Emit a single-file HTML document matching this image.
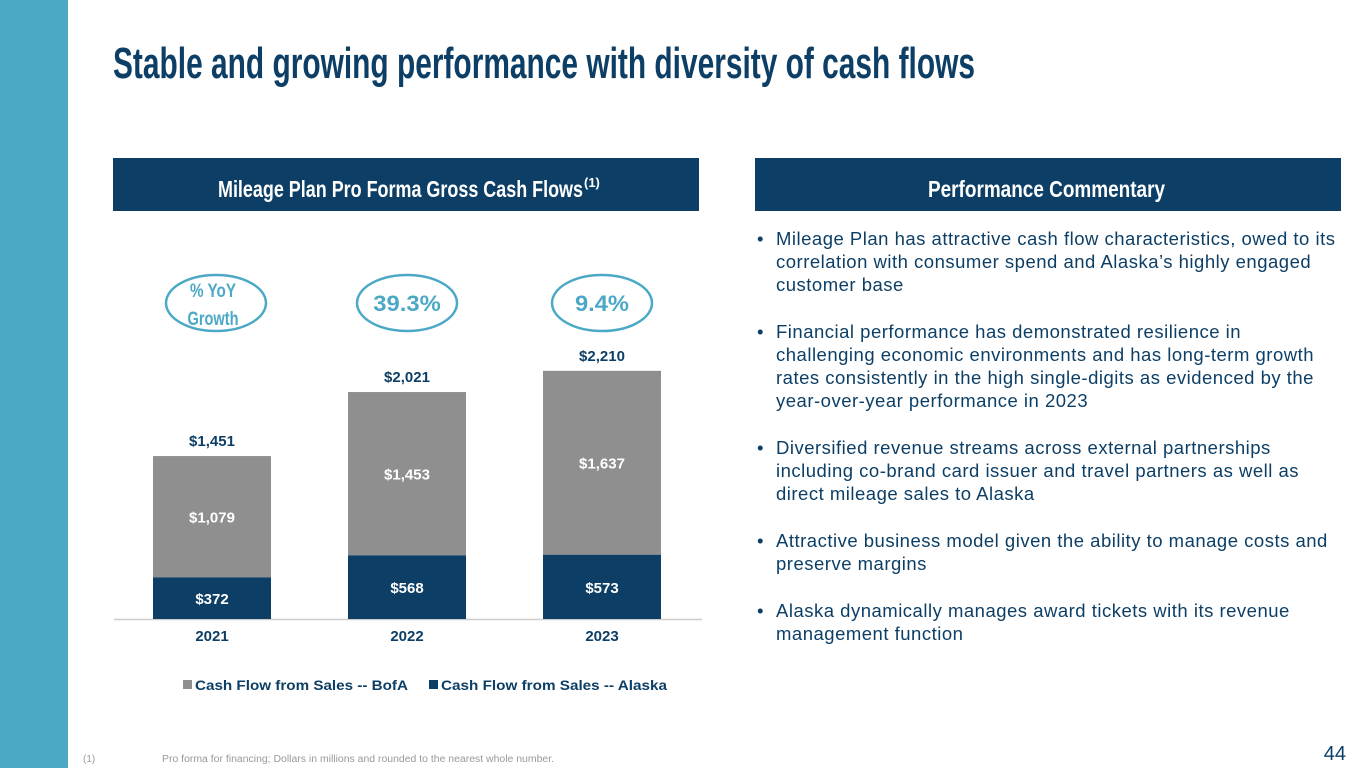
<!DOCTYPE html>
<html><head><meta charset="utf-8"><style>
body{margin:0;width:1365px;height:768px;background:#fff;position:relative;overflow:hidden;font-family:"Liberation Sans",sans-serif}
.strip{position:absolute;left:0;top:0;width:68px;height:768px;background:#4BA9C6}
.bul{position:absolute;left:757px;width:585px;font-size:18.5px;line-height:23px;color:#0D3F66;letter-spacing:0.5px}
.bul p{margin:0 0 24px 0;padding-left:19px;position:relative}
.bul p:before{content:"•";position:absolute;left:0}
</style></head><body>
<div class="strip"></div>
<svg width="1365" height="768" style="position:absolute;left:0;top:0">
<text x="113" y="78" font-family="Liberation Sans Narrow, Liberation Sans, sans-serif" font-weight="bold" font-size="44" fill="#0D3F66" textLength="862" lengthAdjust="spacingAndGlyphs">Stable and growing performance with diversity of cash flows</text>
<rect x="113" y="158" width="586" height="53" fill="#0D3F66"/>
<text x="218" y="197" font-family="Liberation Sans Narrow, Liberation Sans, sans-serif" font-weight="bold" font-size="23" fill="#fff" textLength="365" lengthAdjust="spacingAndGlyphs">Mileage Plan Pro Forma Gross Cash Flows</text>
<text x="584" y="187" font-family="Liberation Sans Narrow, sans-serif" font-weight="bold" font-size="13" fill="#fff">(1)</text>
<rect x="755" y="158" width="586" height="53" fill="#0D3F66"/>
<text x="928" y="197" font-family="Liberation Sans Narrow, Liberation Sans, sans-serif" font-weight="bold" font-size="23" fill="#fff" textLength="237" lengthAdjust="spacingAndGlyphs">Performance Commentary</text>
<g id="chart"></g>
<text x="83" y="762" font-size="10" fill="#999">(1)</text>
<text x="162" y="762" font-size="10" fill="#999" textLength="392" lengthAdjust="spacingAndGlyphs">Pro forma for financing; Dollars in millions and rounded to the nearest whole number.</text>
<text x="1346" y="760" text-anchor="end" font-size="20" fill="#0D3F66">44</text>
</svg>
<div class="bul" style="top:227px">
<p>Mileage Plan has attractive cash flow characteristics, owed to its correlation with consumer spend and Alaska’s highly engaged customer base</p>
<p>Financial performance has demonstrated resilience in challenging economic environments and has long-term growth rates consistently in the high single-digits as evidenced by the year-over-year performance in 2023</p>
<p>Diversified revenue streams across external partnerships including co-brand card issuer and travel partners as well as direct mileage sales to Alaska</p>
<p>Attractive business model given the ability to manage costs and preserve margins</p>
<p>Alaska dynamically manages award tickets with its revenue management function</p>
</div>
<script>
const years=["2021","2022","2023"];
const alaska=[372,568,573];
const bofa=[1079,1453,1637];
const growth=["% YoY Growth","39.3%","9.4%"];
const NS="http://www.w3.org/2000/svg";
const g=document.getElementById("chart");
const baseY=619,k=0.1123,x0=153,step=195,bw=118;
function y(v){return baseY-v*k;}
function xs(i){return x0+i*step;}
function mk(t,a,txt){const e=document.createElementNS(NS,t);for(const n in a)e.setAttribute(n,a[n]);if(txt!=null)e.textContent=txt;g.appendChild(e);return e;}
const ax=mk("line",{x1:114,x2:702,y1:baseY+0.5,y2:baseY+0.5,stroke:"#ccc","stroke-width":1.5});


const ff="Liberation Sans Narrow, Liberation Sans, sans-serif";
years.forEach((yr,i)=>{
  const x=xs(i),cx=x+bw/2,tot=alaska[i]+bofa[i];
  const a=mk("rect",{x:x,y:y(alaska[i]),width:bw,height:alaska[i]*k,fill:"#0D3F66"});
  
  
  const b=mk("rect",{x:x,y:y(tot),width:bw,height:bofa[i]*k,fill:"#8F8F8F"});
  
  
  const la=mk("text",{x:cx,y:(y(alaska[i])+baseY)/2+6,"text-anchor":"middle","font-size":15,"font-weight":"bold",fill:"#fff"},"$"+alaska[i].toLocaleString("en-US"));
  
  
  const lb=mk("text",{x:cx,y:(y(tot)+y(alaska[i]))/2+6,"text-anchor":"middle","font-size":15,"font-weight":"bold",fill:"#fff"},"$"+bofa[i].toLocaleString("en-US"));
  
  
  const lt=mk("text",{x:cx,y:y(tot)-10,"text-anchor":"middle","font-size":15,"font-weight":"bold",fill:"#0D3F66"},"$"+tot.toLocaleString("en-US"));
  
  
  const lx=mk("text",{x:cx,y:641,"text-anchor":"middle","font-size":15,"font-weight":"bold",fill:"#0D3F66"},yr);
  
  
  const ecx=cx+(i==0?4:0);
  const el=mk("ellipse",{cx:ecx,cy:303,rx:50,ry:28,fill:"none",stroke:"#4BA9C6","stroke-width":2.5});
  
  
  if(i==0){
    const t1=mk("text",{x:ecx-3,y:297,"text-anchor":"middle","font-size":19,"font-family":ff,"font-weight":"bold",fill:"#4BA9C6",textLength:46,lengthAdjust:"spacingAndGlyphs"},"% YoY");
    
    
    const t2=mk("text",{x:ecx-3,y:325,"text-anchor":"middle","font-size":19,"font-family":ff,"font-weight":"bold",fill:"#4BA9C6",textLength:51,lengthAdjust:"spacingAndGlyphs"},"Growth");
    
    
  }else{
    const t=mk("text",{x:ecx,y:311,"text-anchor":"middle","font-size":22,"font-family":ff,"font-weight":"bold",fill:"#4BA9C6",textLength:(growth[i].length*13.5),lengthAdjust:"spacingAndGlyphs"},growth[i]);
    
    
  }
});
const l1=mk("rect",{x:183,y:680,width:9,height:9,fill:"#8F8F8F"});


const l1t=mk("text",{x:195,y:690,"font-size":14,"font-weight":"bold",fill:"#0D3F66",textLength:213,lengthAdjust:"spacingAndGlyphs"},"Cash Flow from Sales -- BofA");


const l2=mk("rect",{x:429,y:680,width:9,height:9,fill:"#0D3F66"});


const l2t=mk("text",{x:441,y:690,"font-size":14,"font-weight":"bold",fill:"#0D3F66",textLength:226,lengthAdjust:"spacingAndGlyphs"},"Cash Flow from Sales -- Alaska");


</script>
</body></html>
